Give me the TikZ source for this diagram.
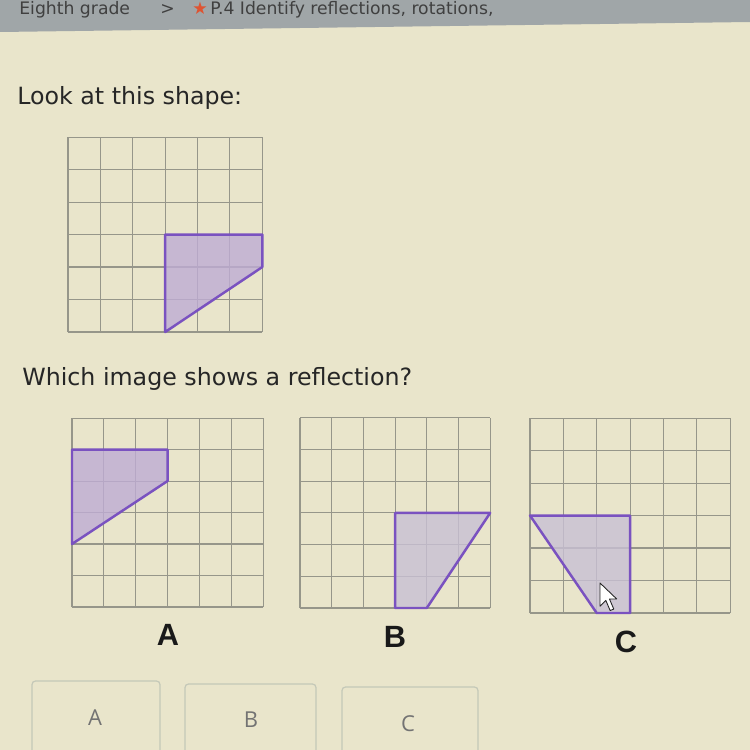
\documentclass[tikz,border=0pt]{standalone}
\usepackage{fontspec}
\setmainfont{DejaVu Sans}
\newfontfamily\labelfont{Liberation Sans}
\newfontfamily\buttonfont{Open Sans}
\usetikzlibrary{positioning}

\definecolor{paper}{RGB}{233,229,203}
\definecolor{headgray}{RGB}{160,166,168}
\definecolor{gridgray}{RGB}{150,150,138}
\definecolor{shapepurple}{RGB}{122,82,192}
\definecolor{shapelilac}{RGB}{190,172,212}
\definecolor{paleLilac}{RGB}{200,192,212}
\definecolor{boxline}{RGB}{196,200,184}
\definecolor{startone}{RGB}{222,84,50}

\tikzset{
  gridline/.style={draw=gridgray, line width=0.6pt},
  mirrorshape/.style={draw=shapepurple, fill=shapelilac, fill opacity=0.8, line width=1.4pt, line join=round},
  question/.style={anchor=base west, inner sep=0pt, text=black!85, font=\fontsize{13.5}{16}\selectfont},
  choicelabel/.style={inner sep=0pt, text=black!90, font=\labelfont\bfseries\fontsize{17.5}{20}\selectfont},
  answerbox/.style={draw=boxline, line width=0.7pt, rounded corners=2pt},
  answertext/.style={inner sep=0pt, text=black!55, font=\buttonfont\fontsize{12.5}{15}\selectfont},
  crumb/.style={anchor=base west, inner sep=0pt, text=black!75, font=\fontsize{9.8}{12}\selectfont}
}

\newcommand{\sixgrid}{%
  \foreach \k in {0,...,6} {
    \draw[gridline] (\k,0) -- (\k,6);
    \draw[gridline] (0,\k) -- (6,\k);
  }%
}

\begin{document}
\begin{tikzpicture}[x=0.02cm, y=-0.02cm]
  \useasboundingbox (0,0) rectangle (750,750);
  \fill[paper] (0,0) rectangle (750,750);
  % header bar
  \fill[headgray] (0,0) -- (750,0) -- (750,22) -- (0,32) -- cycle;
  \node[crumb] (grade) at (19,15) {Eighth grade};
  \node[crumb] (sep) at (160,15) {>};
  \node[crumb, text=startone] (star) at (192,15) {★};
  \node[crumb] (skill) at (210,15) {P.4 Identify reflections, rotations,};

  \node[question] (look) at (17,105) {Look at this shape:};

  % original shape
  \begin{scope}[shift={(68,332)}, x=0.648cm, y=0.65cm]
    \sixgrid
    \draw[mirrorshape] (3,3) -- (6,3) -- (6,2) -- (3,0) -- cycle;
  \end{scope}

  \node[question] (which) at (22,385) {Which image shows a reflection?};

  % choice A
  \begin{scope}[shift={(72,607)}, x=0.637cm, y=0.63cm]
    \sixgrid
    \draw[mirrorshape] (0,5) -- (3,5) -- (3,4) -- (0,2) -- cycle;
  \end{scope}
  % choice B
  \begin{scope}[shift={(300,608)}, x=0.634cm, y=0.634cm]
    \sixgrid
    \draw[mirrorshape, fill=paleLilac] (3,3) -- (6,3) -- (4,0) -- (3,0) -- cycle;
  \end{scope}
  % choice C
  \begin{scope}[shift={(530,613)}, x=0.667cm, y=0.65cm]
    \sixgrid
    \draw[mirrorshape, fill=paleLilac] (0,3) -- (3,3) -- (3,0) -- (2,0) -- cycle;
  \end{scope}

  % mouse pointer
  \begin{scope}[shift={(600,583)}, scale=1.45]
    \draw[fill=white, draw=black!85, line width=0.5pt, line join=round]
      (0,0) -- (0,16) -- (4,12) -- (7,19) -- (9.5,18) -- (6.5,11) -- (11.5,11) -- cycle;
  \end{scope}

  \node[choicelabel] (labA) at (168,635) {A};
  \node[choicelabel] (labB) at (395,637) {B};
  \node[choicelabel] (labC) at (626,642) {C};

  % answer buttons
  \draw[answerbox] (32,760) -- (32,681) -- (160,681) -- (160,760);
  \draw[answerbox] (185,760) -- (185,684) -- (316,684) -- (316,760);
  \draw[answerbox] (342,760) -- (342,687) -- (478,687) -- (478,760);
  \node[answertext] (ansA) at (95,718) {A};
  \node[answertext] (ansB) at (251,720) {B};
  \node[answertext] (ansC) at (408,724) {C};
\end{tikzpicture}
\end{document}
